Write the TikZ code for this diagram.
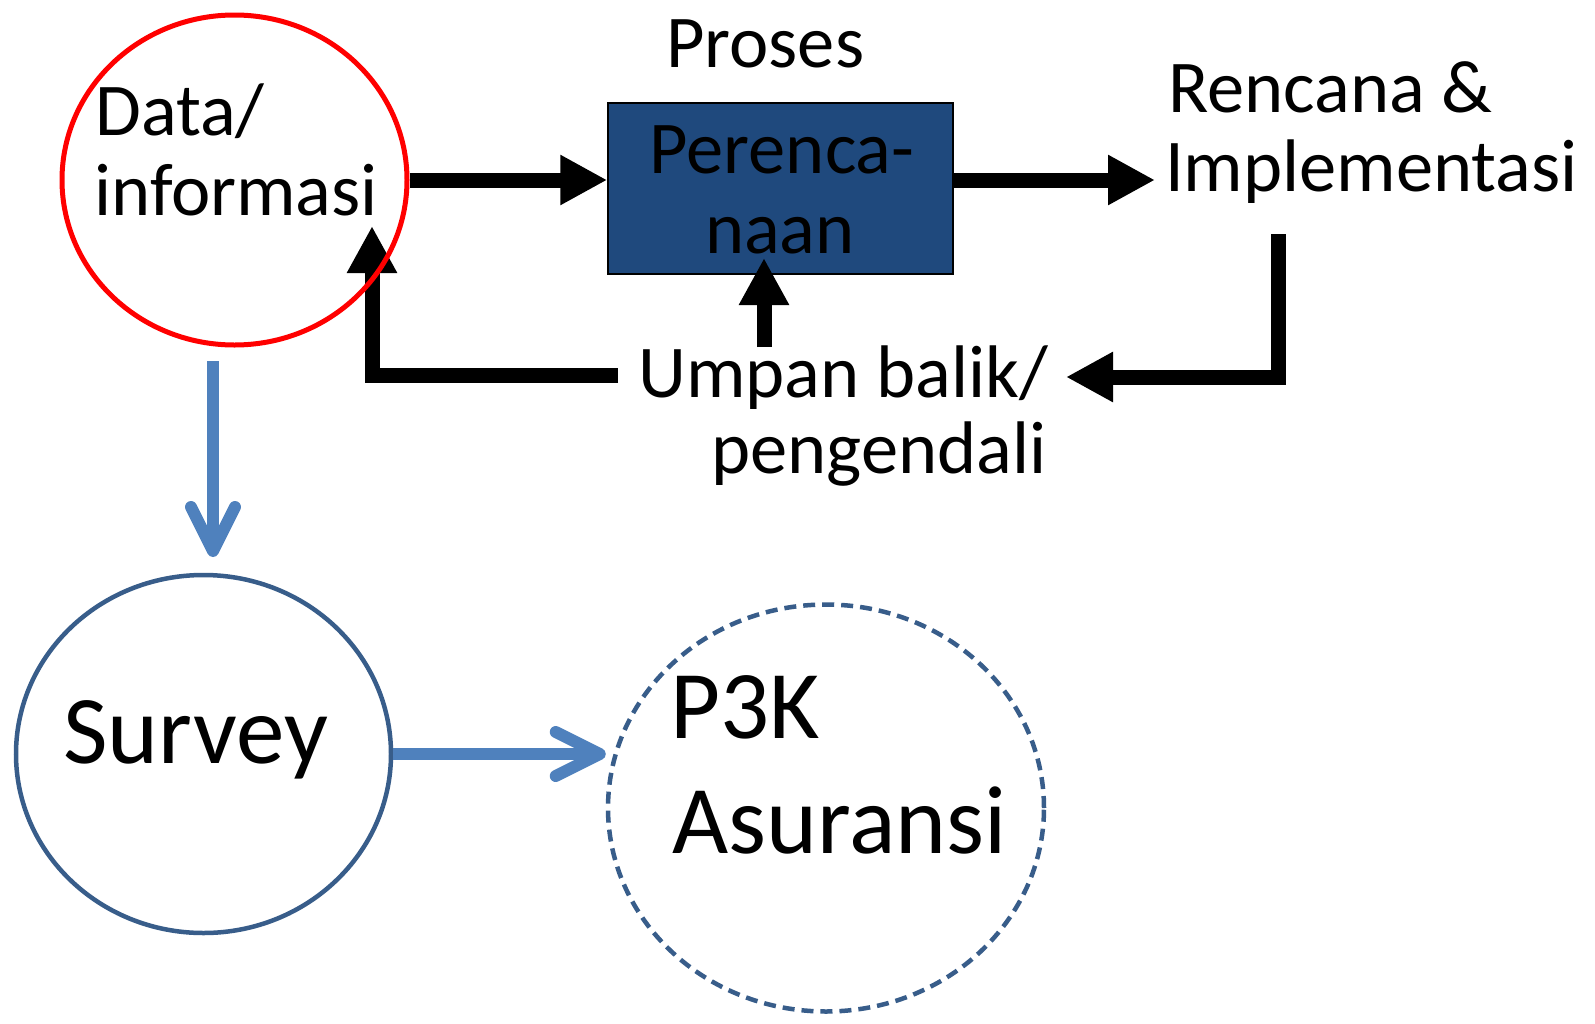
\documentclass[tikz,border=0pt]{standalone}
\usepackage{fontspec}
\setmainfont{Carlito}
\usetikzlibrary{arrows.meta,shapes.geometric}
\definecolor{boxblue}{RGB}{31,73,125}
\definecolor{flowblue}{RGB}{79,129,189}
\definecolor{ringblue}{RGB}{56,93,138}

\begin{document}
\begin{tikzpicture}[x=1pt,y=-1pt,
  lbl/.style={inner sep=0pt, font=\fontsize{74.5}{80}\selectfont},
  biglbl/.style={inner sep=0pt, font=\fontsize{97}{110}\selectfont},
  ring/.style={ellipse, draw, inner sep=0pt, line width=4.5pt},
  fat/.style={line width=15pt, line join=miter, -{Triangle[length=47pt,width=47pt]}},
  flow/.style={draw=flowblue, line width=12pt, -{Straight Barb[length=44pt,width=44pt,round]}}
]
\useasboundingbox (0,0) rectangle (1595,1023);
\fill[white] (0,0) rectangle (1595,1023);

% feedback loop back to the data circle (drawn under the circle outline)
\coordinate (backstart) at (618,375);
\coordinate (backtip) at (372,226);
\draw[fat] (backstart) -| (backtip);

% data / information source
\node[ring, draw=red, line width=5pt, minimum width=345pt, minimum height=330pt] (data) at (234.5,180) {};
\node[lbl, anchor=base west] (data1) at (95,135) {Data/};
\node[lbl, anchor=base west] (data2) at (94,215) {informasi};

% planning process block
\node[lbl, anchor=base west] (proses) at (666,67) {Proses};
\node[draw=black, line width=1.5pt, fill=boxblue, minimum width=345pt, minimum height=171pt, inner sep=0pt] (plan) at (780.5,188.5) {};
\node[lbl, anchor=base] (plan1) at (782,173) {Perenca-};
\node[lbl, anchor=base] (plan2) at (780,253) {naan};

% plan and implementation output
\node[lbl, anchor=base west] (out1) at (1168,112) {Rencana \&};
\node[lbl, anchor=base west] (out2) at (1165,191) {Implementasi};

% feedback / control
\node[lbl, anchor=base west] (fb1) at (638,397) {Umpan balik/};
\node[lbl, anchor=base west] (fb2) at (711,473) {pengendali};

% main flow
\draw[fat] (data.east) -- (data.east -| plan.west);
\coordinate (outtip) at (1155,180);
\draw[fat] (plan.east |- outtip) -- (outtip);

% return path from the output to the feedback label
\coordinate (retstart) at (1278,234);
\coordinate (rettip) at (1066,377);
\draw[fat] (retstart) |- (rettip);

% feedback into the planning block
\coordinate (upstart) at (764,347);
\coordinate (uptip) at (764,258);
\draw[fat] (upstart) -- (uptip);

% survey and insurance
\node[ring, draw=ringblue, minimum width=375pt, minimum height=358pt] (survey) at (203.5,754) {};
\node[biglbl, anchor=base west] (survey1) at (63,763) {Survey};

\node[ring, draw=ringblue, dash pattern=on 12pt off 7pt, minimum width=436pt, minimum height=407pt] (p3k) at (826,808) {};
\node[biglbl, anchor=base west] (p3k1) at (670,738) {P3K};
\node[biglbl, anchor=base west] (p3k2) at (672,853) {Asuransi};

\coordinate (downstart) at (213,361);
\coordinate (downtip) at (213,557);
\draw[flow] (downstart) -- (downtip);
\draw[flow] (survey.east) -- (survey.east -| p3k.west);
\end{tikzpicture}
\end{document}
